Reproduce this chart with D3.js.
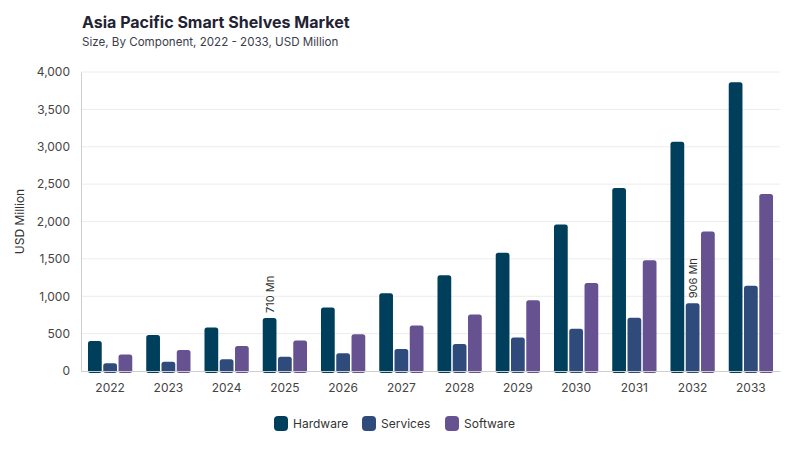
<!DOCTYPE html>
<html>
<head>
<meta charset="utf-8">
<script src="https://cdn.jsdelivr.net/npm/d3@7"></script>
<style>
  body { margin: 0; background: #fff; }
  text { font-family: Inter, "Noto Sans", sans-serif; }
</style>
</head>
<body>
<div id="chart"></div>
<script>
// chart data
var years = ["2022", "2023", "2024", "2025", "2026", "2027", "2028", "2029", "2030", "2031", "2032", "2033"];
var seriesNames = ["Hardware", "Services", "Software"];
var hardware = [400, 480, 582, 710, 849, 1040, 1280, 1582, 1960, 2449, 3067, 3862];
var services = [103, 124, 156, 191, 236, 293, 360, 449, 564, 711, 906, 1142];
var software = [222, 280, 333, 409, 493, 609, 755, 947, 1178, 1480, 1867, 2369];
var yTicks = [0, 500, 1000, 1500, 2000, 2500, 3000, 3500, 4000];
// which bars get a value label: [series, year]
var callouts = [["Hardware", "2025"], ["Services", "2032"]];

var colors = {Hardware: "#003f5c", Services: "#2f4b7c", Software: "#665191"};
var values = {Hardware: hardware, Services: services, Software: software};

var svgWidth = 800, svgHeight = 450;
var margin = {top: 72, right: 20, bottom: 79, left: 81};
var width = svgWidth - margin.left - margin.right,
    height = svgHeight - margin.top - margin.bottom;

var svg = d3.select("#chart").append("svg")
    .attr("width", svgWidth)
    .attr("height", svgHeight);

// title block
svg.append("text")
    .attr("x", 82).attr("y", 28)
    .attr("font-size", 16).attr("font-weight", 700)
    .attr("fill", "#1f2333")
    .text("Asia Pacific Smart Shelves Market");
svg.append("text")
    .attr("x", 82).attr("y", 46)
    .attr("font-size", 11.6)
    .attr("fill", "#3a3d4a")
    .text("Size, By Component, 2022 - 2033, USD Million");

var chart = svg.append("g")
    .attr("transform", `translate(${margin.left}, ${margin.top})`);

var x = d3.scaleBand().domain(years).range([0, width]);
var xInner = d3.scaleBand().domain(seriesNames)
    .range([x.bandwidth() * 0.12, x.bandwidth() * 0.88])
    .paddingInner(0.1);
var y = d3.scaleLinear().domain([0, 4000]).range([height, 0]);

// gridlines
chart.append("g")
    .selectAll("line")
    .data(yTicks.slice(1))
    .enter().append("line")
    .attr("x1", 0).attr("x2", width)
    .attr("y1", d => y(d)).attr("y2", d => y(d))
    .attr("stroke", "#ececec");

// y axis
var yAxis = chart.append("g")
    .call(d3.axisLeft(y).tickValues(yTicks).tickSize(0).tickPadding(11).tickFormat(d3.format(",")));
yAxis.select(".domain").attr("stroke", "#cfcfcf");
yAxis.selectAll("text").attr("font-size", 12).attr("fill", "#444").attr("font-family", "Inter, sans-serif");

svg.append("text")
    .attr("transform", `translate(24, ${margin.top + height / 2}) rotate(-90)`)
    .attr("text-anchor", "middle")
    .attr("font-size", 12).attr("fill", "#333")
    .text("USD Million");

// bars
var groups = chart.selectAll(".year")
    .data(years)
    .enter().append("g")
    .attr("class", "year")
    .attr("transform", d => `translate(${x(d)}, 0)`);

groups.selectAll("rect")
    .data((yr, i) => seriesNames.map(s => ({series: s, year: yr, value: values[s][i]})))
    .enter().append("rect")
    .attr("x", d => xInner(d.series))
    .attr("width", xInner.bandwidth())
    .attr("y", d => y(d.value))
    .attr("height", d => height - y(d.value) + 2)
    .attr("rx", 2.5)
    .attr("fill", d => colors[d.series]);

// x axis
var xAxis = chart.append("g")
    .attr("transform", `translate(0, ${height})`)
    .call(d3.axisBottom(x).tickSize(0).tickPadding(12));
xAxis.select(".domain").attr("stroke", "#cfcfcf");
xAxis.selectAll("text").attr("font-size", 12).attr("fill", "#444").attr("font-family", "Inter, sans-serif");

// value callouts
callouts.forEach(function(c) {
    var i = years.indexOf(c[1]);
    var v = values[c[0]][i];
    var cx = x(c[1]) + xInner(c[0]) + xInner.bandwidth() / 2;
    chart.append("text")
        .attr("transform", `translate(${cx + 4}, ${y(v) - 5}) rotate(-90)`)
        .attr("font-size", 11).attr("fill", "#333")
        .text(v + " Mn");
});

// legend
var legendX = [274, 362, 445];
var legend = svg.append("g").selectAll("g")
    .data(seriesNames)
    .enter().append("g")
    .attr("transform", (d, i) => `translate(${legendX[i]}, 416)`);
legend.append("rect")
    .attr("width", 14).attr("height", 15).attr("rx", 4)
    .attr("fill", d => colors[d]);
legend.append("text")
    .attr("x", 19).attr("y", 12)
    .attr("font-size", 12).attr("fill", "#333")
    .text(d => d);
</script>
</body>
</html>
